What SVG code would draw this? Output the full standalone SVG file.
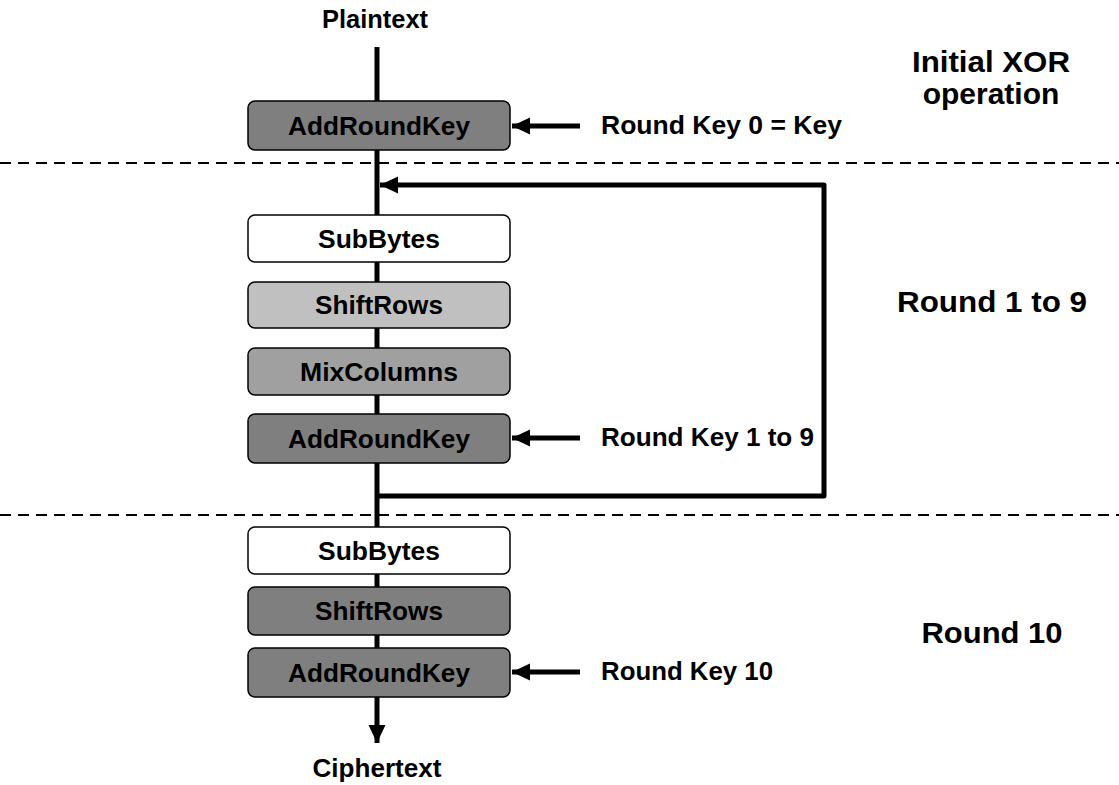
<svg xmlns="http://www.w3.org/2000/svg" width="1119" height="785" viewBox="0 0 1119 785">
<style>
text{font-family:"Liberation Sans",Arial,sans-serif;font-weight:bold;fill:#000}
.lbl{font-size:25px}
.box{stroke:#000;stroke-width:1.5}
.bt{font-size:25px;text-anchor:middle}
.reg{font-size:30px;text-anchor:middle}
.flow{fill:none;stroke:#000;stroke-width:5}
.dash{fill:none;stroke:#000;stroke-width:2;stroke-dasharray:11 7}
</style>
<defs>
<marker id="ah" markerUnits="userSpaceOnUse" markerWidth="20" markerHeight="20" viewBox="0 0 20 20" refX="18" refY="10" orient="auto">
<path d="M0,1.5 L18,10 L0,18.5 Z" fill="#000"/>
</marker>
</defs>
<rect width="1119" height="785" fill="#fff"/>
<g id="separators">
<line class="dash" x1="0" y1="163" x2="1119" y2="163"/>
<line class="dash" x1="0" y1="515" x2="1119" y2="515"/>
</g>
<g id="connectors">
<line class="flow" x1="377" y1="47" x2="377" y2="743" marker-end="url(#ah)"/>
<path class="flow" d="M377,496 L824,496 L824,185 L380,185" stroke-linejoin="round" marker-end="url(#ah)"/>
<line class="flow" x1="580" y1="126" x2="512" y2="126" marker-end="url(#ah)"/>
<line class="flow" x1="580" y1="438" x2="512" y2="438" marker-end="url(#ah)"/>
<line class="flow" x1="580" y1="672" x2="512" y2="672" marker-end="url(#ah)"/>
</g>
<g id="plaintext"><text class="bt" x="375" y="28" textLength="106" lengthAdjust="spacingAndGlyphs">Plaintext</text></g>
<g id="ark0"><rect class="box" x="248" y="101" width="262" height="49" rx="7" fill="#7f7f7f"/><text class="bt" x="379" y="135" textLength="182" lengthAdjust="spacingAndGlyphs">AddRoundKey</text></g>
<g id="sb1"><rect class="box" x="248" y="215" width="262" height="47" rx="7" fill="#fff"/><text class="bt" x="379" y="248" textLength="122" lengthAdjust="spacingAndGlyphs">SubBytes</text></g>
<g id="sr1"><rect class="box" x="248" y="282" width="262" height="46" rx="7" fill="#c0c0c0"/><text class="bt" x="379" y="314" textLength="128" lengthAdjust="spacingAndGlyphs">ShiftRows</text></g>
<g id="mc1"><rect class="box" x="248" y="348" width="262" height="47" rx="7" fill="#a0a0a0"/><text class="bt" x="379" y="381" textLength="158" lengthAdjust="spacingAndGlyphs">MixColumns</text></g>
<g id="ark1"><rect class="box" x="248" y="414" width="262" height="49" rx="7" fill="#7f7f7f"/><text class="bt" x="379" y="448" textLength="182" lengthAdjust="spacingAndGlyphs">AddRoundKey</text></g>
<g id="sb10"><rect class="box" x="248" y="527" width="262" height="47" rx="7" fill="#fff"/><text class="bt" x="379" y="560" textLength="122" lengthAdjust="spacingAndGlyphs">SubBytes</text></g>
<g id="sr10"><rect class="box" x="248" y="587" width="262" height="48" rx="7" fill="#7f7f7f"/><text class="bt" x="379" y="620" textLength="128" lengthAdjust="spacingAndGlyphs">ShiftRows</text></g>
<g id="ark10"><rect class="box" x="248" y="648" width="262" height="49" rx="7" fill="#7f7f7f"/><text class="bt" x="379" y="682" textLength="182" lengthAdjust="spacingAndGlyphs">AddRoundKey</text></g>
<g id="ciphertext"><text class="bt" x="377" y="777" textLength="129" lengthAdjust="spacingAndGlyphs">Ciphertext</text></g>
<g id="keys">
<text class="lbl" x="601" y="134" textLength="241" lengthAdjust="spacingAndGlyphs">Round Key 0 = Key</text>
<text class="lbl" x="601" y="446" textLength="213" lengthAdjust="spacingAndGlyphs">Round Key 1 to 9</text>
<text class="lbl" x="601" y="680" textLength="172" lengthAdjust="spacingAndGlyphs">Round Key 10</text>
</g>
<g id="regions">
<text class="reg" x="991" y="72" textLength="158" lengthAdjust="spacingAndGlyphs">Initial XOR</text>
<text class="reg" x="991" y="104">operation</text>
<text class="reg" x="992" y="312" textLength="190" lengthAdjust="spacingAndGlyphs">Round 1 to 9</text>
<text class="reg" x="992" y="643" textLength="141" lengthAdjust="spacingAndGlyphs">Round 10</text>
</g>
</svg>
